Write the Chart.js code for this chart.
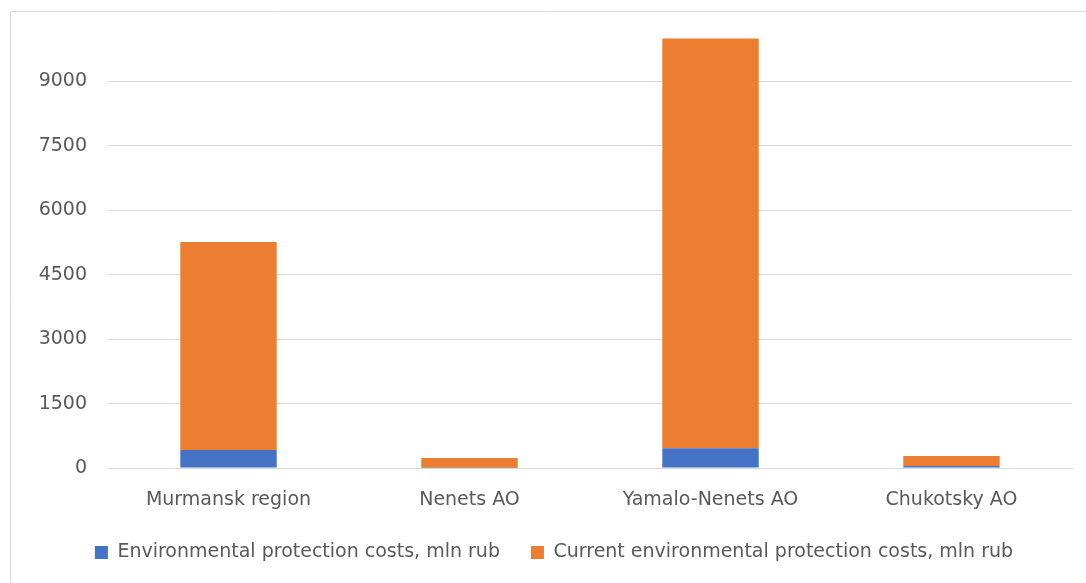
<!DOCTYPE html>
<html>
<head>
<meta charset="utf-8">
<script src="https://cdn.jsdelivr.net/npm/chart.js@4"></script>
<style>
  html, body { margin: 0; padding: 0; background: #ffffff; }
  #wrap { width: 1086px; height: 583px; position: relative; }
</style>
</head>
<body>
<div id="wrap"><canvas id="c" width="1086" height="583"></canvas></div>
<script>
// Regions of the Russian Arctic
const regions = ['Murmansk region', 'Nenets AO', 'Yamalo-Nenets AO', 'Chukotsky AO'];
// Environmental protection costs, mln rub
const protectionCosts = [420, 4, 458, 47];
// Current environmental protection costs, mln rub
const currentCosts = [4840, 229, 9542, 232];
// Value axis ticks
const yTicks = [0, 1500, 3000, 4500, 6000, 7500, 9000];
const yMax = 10500;

const seriesNames = [
  'Environmental protection costs, mln rub',
  'Current environmental protection costs, mln rub'
];

const FONT = "'DejaVu Sans', sans-serif";
const GRID = '#d9d9d9';
const TEXT = '#595959';

// Thin frame around the chart
const framePlugin = {
  id: 'frame',
  beforeDraw(chart) {
    const ctx = chart.ctx;
    ctx.save();
    ctx.fillStyle = '#ffffff';
    ctx.fillRect(0, 0, chart.width, chart.height);
    ctx.strokeStyle = '#d9d9d9';
    ctx.lineWidth = 1;
    ctx.beginPath();
    ctx.moveTo(10.5, chart.height);
    ctx.lineTo(10.5, 11.5);
    ctx.lineTo(chart.width, 11.5);
    ctx.stroke();
    ctx.restore();
  }
};

new Chart(document.getElementById('c'), {
  type: 'bar',
  data: {
    labels: regions,
    datasets: [
      {
        label: seriesNames[0],
        data: protectionCosts,
        backgroundColor: '#4472C4',
        categoryPercentage: 0.4,
        barPercentage: 1.0
      },
      {
        label: seriesNames[1],
        data: currentCosts,
        backgroundColor: '#ED7D31',
        categoryPercentage: 0.4,
        barPercentage: 1.0
      }
    ]
  },
  options: {
    responsive: false,
    animation: false,
    devicePixelRatio: 1,
    layout: { padding: { left: 36, right: 14, top: 17, bottom: 11 } },
    plugins: {
      legend: {
        position: 'bottom',
        labels: {
          font: { family: FONT, size: 19 },
          color: TEXT,
          boxWidth: 13,
          boxHeight: 13,
          padding: 31
        }
      },
      tooltip: { enabled: false }
    },
    scales: {
      x: {
        stacked: true,
        grid: { display: false, drawTicks: false },
        border: { color: GRID, width: 1 },
        afterFit(scale) { scale.height = 44; },
        ticks: {
          font: { family: FONT, size: 19 },
          color: TEXT,
          padding: 21
        }
      },
      y: {
        stacked: true,
        min: 0,
        max: yMax,
        afterBuildTicks(scale) {
          scale.ticks = yTicks.concat([yMax]).map(v => ({ value: v }));
        },
        afterFit(scale) {
          scale.width = 72;
          scale.paddingTop = 0;
          scale.paddingBottom = 0;
        },
        grid: {
          drawTicks: false,
          color: ctx => (ctx.tick && ctx.tick.value > yTicks[yTicks.length - 1]) ? 'rgba(0,0,0,0)' : GRID,
          lineWidth: 1
        },
        border: { display: false },
        ticks: {
          font: { family: FONT, size: 19 },
          color: TEXT,
          padding: 21,
          callback: v => (yTicks.includes(v) ? String(v) : '')
        }
      }
    }
  },
  plugins: [framePlugin]
});
</script>
</body>
</html>
